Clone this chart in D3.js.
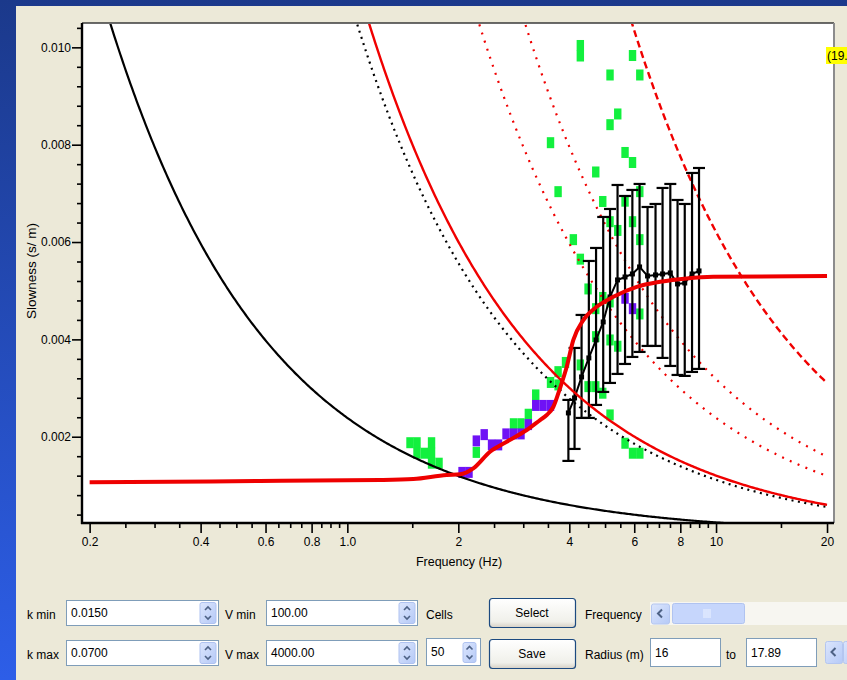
<!DOCTYPE html>
<html>
<head>
<meta charset="utf-8">
<script src="https://cdn.jsdelivr.net/npm/d3@7"></script>
<style>
  html, body { margin: 0; padding: 0; overflow: hidden; background: #1e3c8e; }
  svg { display: block; font-family: "Liberation Sans", Arial, sans-serif; }
</style>
</head>
<body>
<svg id="chart" width="847" height="680"></svg>
<script>
// ---------- data ----------
// axis ticks
const xMajorTicks = [0.2, 0.4, 0.6, 0.8, 1.0, 2, 4, 6, 8, 10, 20];
const xMajorLabels = ["0.2", "0.4", "0.6", "0.8", "1.0", "2", "4", "6", "8", "10", "20"];
const xMinorTicks = [0.25, 0.3, 0.35, 0.45, 0.5, 0.55, 0.65, 0.7, 0.75, 0.85, 0.9, 0.95,
                     1.5, 2.5, 3, 3.5, 4.5, 5, 5.5, 6.5, 7, 7.5, 8.5, 9, 9.5, 15];
const yMajorTicks = [0.002, 0.004, 0.006, 0.008, 0.010];
const yMajorLabels = ["0.002", "0.004", "0.006", "0.008", "0.010"];
const yMinorTicks = [0.0004, 0.0008, 0.0012, 0.0016, 0.0024, 0.0028, 0.0032, 0.0036,
                     0.0044, 0.0048, 0.0052, 0.0056, 0.0064, 0.0068, 0.0072, 0.0076,
                     0.0084, 0.0088, 0.0092, 0.0096, 0.0104];

// constant-wavenumber curves s = k / (2*pi*f)   (k in rad/m)
const kMin = 0.015;            // black solid
const kMax = 0.07;             // black dotted
const kModel = 0.0755;         // red solid, decreasing
const kDotted = [0.15, 0.2];   // red dotted
const kDashed = 0.39;          // red dashed

// fitted dispersion curve (frequency Hz, slowness s/m)
const fitFreq = [0.2, 0.58, 1.227, 1.51, 1.86, 2.02, 2.196, 2.438, 2.706, 3.066, 3.332, 3.474,
                 3.621, 3.775, 3.936, 4.10, 4.366, 4.747, 5.266, 6.095, 7.05, 8.33, 9.83, 20.0];
const fitSlow = [0.001064, 0.00109, 0.001111, 0.001131, 0.001214, 0.001228, 0.001351, 0.001692,
                 0.001897, 0.002138, 0.002343, 0.002446, 0.002616, 0.003, 0.003437, 0.003986,
                 0.004396, 0.004669, 0.004875, 0.00508, 0.005183, 0.005253, 0.005285, 0.0053];

// averaged picks with error bars
const barFreq = [3.977, 4.133, 4.318, 4.519, 4.727, 4.943, 5.158, 5.406, 5.665, 5.93,
                 6.203, 6.52, 6.853, 7.161, 7.516, 7.863, 8.225, 8.608, 8.992];
const barMean = [0.002489, 0.002797, 0.003228, 0.003619, 0.003988, 0.004358, 0.004872, 0.005221,
                 0.005282, 0.005344, 0.005488, 0.005303, 0.005324, 0.005344, 0.005365, 0.005139,
                 0.005159, 0.005344, 0.005406];
const barHigh = [0.002756, 0.003824, 0.004502, 0.005611, 0.005878, 0.006515, 0.006679, 0.007172,
                 0.006946, 0.00707, 0.007193, 0.00672, 0.006782, 0.007111, 0.007193, 0.006864,
                 0.006782, 0.007419, 0.007521];
const barLow = [0.001503, 0.001749, 0.002386, 0.002386, 0.002653, 0.00292, 0.003105, 0.00329,
                0.003495, 0.003639, 0.003742, 0.003865, 0.003865, 0.003619, 0.003454, 0.003269,
                0.003249, 0.003331, 0.003393];

// selected cells [frequency, slowness]
const greenCells = [
  [4.285, 0.010038], [4.285, 0.009822], [5.936, 0.009832], [5.158, 0.009432], [6.212, 0.009432],
  [5.413, 0.008631], [5.158, 0.008411], [3.557, 0.008041], [5.665, 0.00784], [5.936, 0.007634],
  [4.718, 0.007439], [3.729, 0.007035], [6.212, 0.007035], [4.929, 0.006833], [5.665, 0.006839],
  [5.158, 0.006418], [5.413, 0.006238], [5.936, 0.006418], [4.102, 0.006049], [6.212, 0.006049],
  [4.285, 0.005648], [4.497, 0.005036], [4.929, 0.004861], [4.718, 0.004631], [5.413, 0.003859],
  [6.212, 0.004522], [4.718, 0.004056], [3.906, 0.003526], [3.729, 0.003337], [3.557, 0.003115],
  [3.729, 0.003064], [3.243, 0.002859], [4.497, 0.003029], [4.718, 0.003029], [4.929, 0.002894],
  [5.158, 0.002448], [5.665, 0.001866], [5.936, 0.001661], [6.212, 0.001661], [1.479, 0.001877],
  [1.545, 0.001877], [1.692, 0.001877], [1.545, 0.001661], [1.618, 0.001661], [1.692, 0.001661],
  [1.692, 0.001456], [1.773, 0.001456], [2.238, 0.001678], [2.823, 0.002267], [2.958, 0.002267],
  [3.097, 0.002462], [5.158, 0.004769], [4.285, 0.003475], [5.158, 0.003988]
];
const purpleCells = [
  [2.047, 0.001267], [2.138, 0.001267], [2.238, 0.001914], [2.351, 0.002043], [2.461, 0.001832],
  [2.571, 0.001832], [2.694, 0.002058], [2.823, 0.002058], [2.958, 0.002058], [3.097, 0.002249],
  [3.243, 0.002643], [3.395, 0.002643], [3.557, 0.002643], [5.665, 0.004845], [5.936, 0.004631]
];

// ---------- drawing ----------
const W = 847, H = 680;
const svg = d3.select("#chart");
const defs = svg.append("defs");

const bgGrad = defs.append("linearGradient").attr("id", "bgGrad")
  .attr("x1", 0).attr("y1", 0).attr("x2", 0).attr("y2", 1);
bgGrad.append("stop").attr("offset", "0%").attr("stop-color", "#1B398B");
bgGrad.append("stop").attr("offset", "100%").attr("stop-color", "#2D5EE8");

const btnGrad = defs.append("linearGradient").attr("id", "btnGrad")
  .attr("x1", 0).attr("y1", 0).attr("x2", 0).attr("y2", 1);
btnGrad.append("stop").attr("offset", "0%").attr("stop-color", "#FFFFFF");
btnGrad.append("stop").attr("offset", "80%").attr("stop-color", "#F0F0EA");
btnGrad.append("stop").attr("offset", "100%").attr("stop-color", "#D6D0C5");

const spinGrad = defs.append("linearGradient").attr("id", "spinGrad")
  .attr("x1", 0).attr("y1", 0).attr("x2", 1).attr("y2", 1);
spinGrad.append("stop").attr("offset", "0%").attr("stop-color", "#DCE6FD");
spinGrad.append("stop").attr("offset", "100%").attr("stop-color", "#B5C9F7");

svg.append("rect").attr("width", W).attr("height", H).attr("fill", "url(#bgGrad)");
svg.append("rect").attr("x", 16).attr("y", 6).attr("width", W - 16).attr("height", H - 6)
  .attr("fill", "#ECE9D8");

// plot frame
const P = { left: 82, top: 23, right: 834, bottom: 523 };
const x = d3.scaleLog().domain([0.1907, 20.89]).range([P.left, P.right]);
const y = d3.scaleLinear().domain([0.00025, 0.0105]).range([521.9, 23]);

svg.append("rect").attr("x", P.left).attr("y", P.top)
  .attr("width", P.right - P.left).attr("height", P.bottom - P.top).attr("fill", "#FFFFFF");

defs.append("clipPath").attr("id", "plotClip").append("rect")
  .attr("x", P.left + 1).attr("y", P.top + 1)
  .attr("width", P.right - P.left - 2).attr("height", P.bottom - P.top - 2);

const g = svg.append("g").attr("clip-path", "url(#plotClip)");

// cells
const cellW = 7.4, cellH = 11;
g.append("g").selectAll("rect").data(greenCells).join("rect")
  .attr("x", d => x(d[0]) - cellW / 2).attr("y", d => y(d[1]) - cellH / 2)
  .attr("width", cellW).attr("height", cellH).attr("fill", "#12F03E");
g.append("g").selectAll("rect").data(purpleCells).join("rect")
  .attr("x", d => x(d[0]) - cellW / 2).attr("y", d => y(d[1]) - cellH / 2)
  .attr("width", cellW).attr("height", cellH).attr("fill", "#6F12F5");

// constant-k curves
const curveFreqs = d3.range(0, 501).map(i => 0.19 * Math.pow(20 / 0.19, i / 500));
const kLine = k => d3.line()
  .x(f => x(f))
  .y(f => y(k / (2 * Math.PI * f)))(curveFreqs.filter(f => k / (2 * Math.PI * f) < 0.0115));

g.append("path").attr("d", kLine(kMin)).attr("fill", "none")
  .attr("stroke", "#000").attr("stroke-width", 2.2);
g.append("path").attr("d", kLine(kMax)).attr("fill", "none")
  .attr("stroke", "#000").attr("stroke-width", 2.2).attr("stroke-dasharray", "2,4.5");
kDotted.forEach(k => {
  g.append("path").attr("d", kLine(k)).attr("fill", "none")
    .attr("stroke", "#F00000").attr("stroke-width", 2.2).attr("stroke-dasharray", "2,6.5");
});
g.append("path").attr("d", kLine(kDashed)).attr("fill", "none")
  .attr("stroke", "#F00000").attr("stroke-width", 2.4).attr("stroke-dasharray", "7,4");

// error bars
const bars = barFreq.map((f, i) => ({ f, mean: barMean[i], hi: barHigh[i], lo: barLow[i] }));
const eb = g.append("g").attr("stroke", "#000").attr("stroke-width", 2.2);
eb.selectAll("line.v").data(bars).join("line").attr("class", "v")
  .attr("x1", d => x(d.f)).attr("x2", d => x(d.f))
  .attr("y1", d => y(d.hi)).attr("y2", d => y(d.lo));
eb.selectAll("line.t").data(bars).join("line").attr("class", "t")
  .attr("x1", d => x(d.f) - 6).attr("x2", d => x(d.f) + 6)
  .attr("y1", d => y(d.hi)).attr("y2", d => y(d.hi));
eb.selectAll("line.b").data(bars).join("line").attr("class", "b")
  .attr("x1", d => x(d.f) - 6).attr("x2", d => x(d.f) + 6)
  .attr("y1", d => y(d.lo)).attr("y2", d => y(d.lo));

g.append("path")
  .attr("d", d3.line().x(d => x(d.f)).y(d => y(d.mean))(bars))
  .attr("fill", "none").attr("stroke", "#000").attr("stroke-width", 2);
g.append("g").selectAll("rect").data(bars).join("rect")
  .attr("x", d => x(d.f) - 2.5).attr("y", d => y(d.mean) - 2.5)
  .attr("width", 5).attr("height", 5).attr("fill", "#000");

// red curves on top
g.append("path").attr("d", kLine(kModel)).attr("fill", "none")
  .attr("stroke", "#F00000").attr("stroke-width", 2.4);
const fitPts = fitFreq.map((f, i) => [f, fitSlow[i]]);
g.append("path")
  .attr("d", d3.line().x(d => x(d[0])).y(d => y(d[1])).curve(d3.curveMonotoneX)(fitPts))
  .attr("fill", "none").attr("stroke", "#EE0000").attr("stroke-width", 4)
  .attr("stroke-linejoin", "round");

// frame borders
svg.append("line").attr("x1", P.left).attr("x2", P.right).attr("y1", P.top).attr("y2", P.top)
  .attr("stroke", "#3A3A3A").attr("stroke-width", 1.5);
svg.append("line").attr("x1", P.right).attr("x2", P.right).attr("y1", P.top).attr("y2", P.bottom)
  .attr("stroke", "#8C8C8C").attr("stroke-width", 2);

// axes
const axisFont = "12px";
const xMajor = svg.append("g").attr("transform", `translate(0,${P.bottom})`)
  .call(d3.axisBottom(x).tickValues(xMajorTicks)
    .tickFormat((d, i) => xMajorLabels[i]).tickSize(10).tickPadding(4));
const xMinor = svg.append("g").attr("transform", `translate(0,${P.bottom})`)
  .call(d3.axisBottom(x).tickValues(xMinorTicks).tickFormat("").tickSize(5));
const yMajor = svg.append("g").attr("transform", `translate(${P.left},0)`)
  .call(d3.axisLeft(y).tickValues(yMajorTicks)
    .tickFormat((d, i) => yMajorLabels[i]).tickSize(10).tickPadding(1));
const yMinor = svg.append("g").attr("transform", `translate(${P.left},0)`)
  .call(d3.axisLeft(y).tickValues(yMinorTicks).tickFormat("").tickSize(5));
[xMajor, xMinor, yMajor, yMinor].forEach(a => {
  a.select(".domain").remove();
  a.selectAll(".tick line").attr("stroke", "#000").attr("stroke-width", 1.6);
  a.selectAll("text").attr("font-size", axisFont).attr("fill", "#000")
    .attr("font-family", "Liberation Sans, Arial, sans-serif");
});

// axis lines
svg.append("line").attr("x1", P.left).attr("x2", P.left).attr("y1", P.top).attr("y2", P.bottom + 1)
  .attr("stroke", "#000").attr("stroke-width", 2.4);
svg.append("line").attr("x1", P.left - 1).attr("x2", P.right).attr("y1", P.bottom).attr("y2", P.bottom)
  .attr("stroke", "#000").attr("stroke-width", 2.4);

// axis titles
svg.append("text").attr("x", 459).attr("y", 566).attr("text-anchor", "middle")
  .attr("font-size", "12.5px").attr("fill", "#000").text("Frequency (Hz)");
svg.append("text").attr("transform", "translate(36,271) rotate(-90)").attr("text-anchor", "middle")
  .attr("font-size", "13.5px").attr("fill", "#000").text("Slowness (s/ m)");

// cursor read-out tag
svg.append("rect").attr("x", 826).attr("y", 47).attr("width", 30).attr("height", 17)
  .attr("fill", "#FFFF00");
svg.append("text").attr("x", 827).attr("y", 60).attr("font-size", "12px").attr("fill", "#000")
  .text("(19.");

// ---------- controls ----------
const ctl = svg.append("g").attr("font-size", "12px").attr("fill", "#000");

function label(px, py, t) {
  ctl.append("text").attr("x", px).attr("y", py).attr("fill", "#000").text(t);
}
function spinner(px, py, w, h) {
  ctl.append("rect").attr("x", px).attr("y", py).attr("width", w).attr("height", h)
    .attr("rx", 2).attr("fill", "url(#spinGrad)").attr("stroke", "#AFC2F0").attr("stroke-width", 1);
  const cx = px + w / 2, cy = py + h / 2;
  ctl.append("path").attr("d", `M${cx - 3},${cy - 3} L${cx},${cy - 6} L${cx + 3},${cy - 3}`)
    .attr("fill", "none").attr("stroke", "#4D6185").attr("stroke-width", 1.6);
  ctl.append("path").attr("d", `M${cx - 3},${cy + 3} L${cx},${cy + 6} L${cx + 3},${cy + 3}`)
    .attr("fill", "none").attr("stroke", "#4D6185").attr("stroke-width", 1.6);
}
function input(px, py, w, h, t, spin) {
  ctl.append("rect").attr("x", px + 0.5).attr("y", py + 0.5).attr("width", w).attr("height", h)
    .attr("fill", "#FFFFFF").attr("stroke", "#7F9DB9").attr("stroke-width", 1);
  ctl.append("text").attr("x", px + 5).attr("y", py + h / 2 + 4.5).attr("fill", "#000").text(t);
  if (spin) spinner(px + w - 18, py + 2.5, 16, h - 4);
}
function button(px, py, w, h, t) {
  ctl.append("rect").attr("x", px + 0.5).attr("y", py + 0.5).attr("width", w).attr("height", h)
    .attr("rx", 3).attr("fill", "url(#btnGrad)").attr("stroke", "#1C4A80").attr("stroke-width", 1.2);
  ctl.append("text").attr("x", px + w / 2).attr("y", py + h / 2 + 4.5)
    .attr("text-anchor", "middle").attr("fill", "#000").text(t);
}
function arrowButton(px, py, w, h) {
  ctl.append("rect").attr("x", px + 0.5).attr("y", py + 0.5).attr("width", w).attr("height", h)
    .attr("rx", 2).attr("fill", "url(#spinGrad)").attr("stroke", "#B4C6F0").attr("stroke-width", 1);
  const cx = px + w / 2, cy = py + h / 2;
  ctl.append("path").attr("d", `M${cx + 2},${cy - 4} L${cx - 2},${cy} L${cx + 2},${cy + 4}`)
    .attr("fill", "none").attr("stroke", "#4D6185").attr("stroke-width", 2);
}

// row 1
label(27, 618.5, "k min");
input(66, 600, 152, 25, "0.0150", true);
label(225, 618.5, "V min");
input(266, 600, 151, 25, "100.00", true);
label(426, 618.5, "Cells");
button(489, 598, 86, 29, "Select");
label(585, 618.5, "Frequency");
ctl.append("rect").attr("x", 650).attr("y", 602).attr("width", 197).attr("height", 23)
  .attr("fill", "#F7F6F1");
arrowButton(651, 603.5, 18, 20);
ctl.append("rect").attr("x", 672.5).attr("y", 603.5).attr("width", 72).attr("height", 20)
  .attr("rx", 2).attr("fill", "#C6D6FC").attr("stroke", "#B0C3F0").attr("stroke-width", 1);
[704, 706, 708, 710].forEach(gx => {
  ctl.append("line").attr("x1", gx).attr("x2", gx).attr("y1", 609).attr("y2", 618)
    .attr("stroke", "#EEF3FF").attr("stroke-width", 1);
});

// row 2
label(27, 658.5, "k max");
input(66, 640, 152, 25, "0.0700", true);
label(225, 658.5, "V max");
input(266, 640, 151, 25, "4000.00", true);
input(426, 638, 54, 27, "50", false);
spinner(463, 642.5, 13, 20);
button(489, 639, 86, 29, "Save");
label(585, 658.5, "Radius (m)");
input(650, 638, 70, 28, "16", false);
label(726, 658.5, "to");
input(746, 638, 70, 28, "17.89", false);
arrowButton(825, 641, 17, 22);
ctl.append("rect").attr("x", 843.5).attr("y", 641.5).attr("width", 12).attr("height", 22)
  .attr("rx", 2).attr("fill", "url(#spinGrad)").attr("stroke", "#B4C6F0");
</script>
</body>
</html>
